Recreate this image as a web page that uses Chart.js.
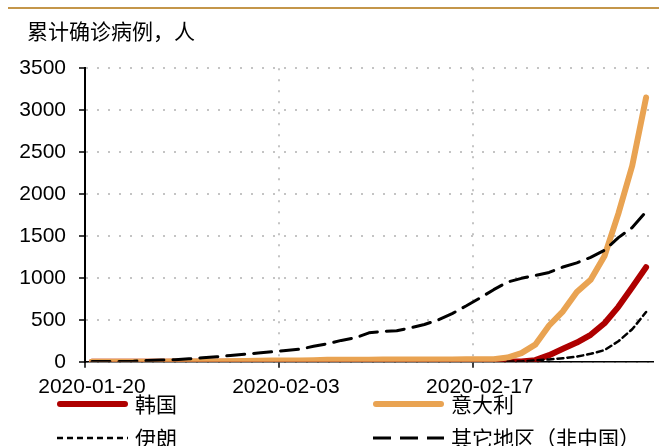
<!DOCTYPE html>
<html>
<head>
<meta charset="utf-8">
<script src="https://cdn.jsdelivr.net/npm/chart.js@4"></script>
<style>
  body { margin: 0; background: #fff; }
  #wrap { position: relative; width: 659px; height: 446px; }
  #topline { position: absolute; left: 8px; top: 7px; width: 651px; height: 2px; background: #c4964a; }
  canvas { position: absolute; left: 0; top: 0; }
</style>
</head>
<body>
<div id="wrap">
  <div id="topline"></div>
  <canvas id="myChart" width="659" height="446"></canvas>
</div>
<script>
const FONT = '"Liberation Sans", Arial, "Noto Sans CJK SC", sans-serif';

// daily categories, 2020-01-20 .. 2020-02-29
const dates = [
  '2020-01-20', '2020-01-21', '2020-01-22', '2020-01-23', '2020-01-24', '2020-01-25', '2020-01-26',
  '2020-01-27', '2020-01-28', '2020-01-29', '2020-01-30', '2020-01-31', '2020-02-01', '2020-02-02',
  '2020-02-03', '2020-02-04', '2020-02-05', '2020-02-06', '2020-02-07', '2020-02-08', '2020-02-09',
  '2020-02-10', '2020-02-11', '2020-02-12', '2020-02-13', '2020-02-14', '2020-02-15', '2020-02-16',
  '2020-02-17', '2020-02-18', '2020-02-19', '2020-02-20', '2020-02-21', '2020-02-22', '2020-02-23',
  '2020-02-24', '2020-02-25', '2020-02-26', '2020-02-27', '2020-02-28', '2020-02-29'
];
// only these dates get a tick label / grid line
const shownDates = ['2020-01-20', '2020-02-03', '2020-02-17'];

// red line (legend: 韩国)
const korea = [
  0, 0, 0, 0, 0, 0, 0, 0, 0, 0, 0, 2, 2, 2,
  2, 2, 2, 2, 3, 3, 3, 3, 3, 3, 3, 3, 3, 3,
  3, 3, 3, 3, 20, 79, 155, 229, 322, 460, 655, 888, 1128
];
// orange line (legend: 意大利)
const italy = [
  1, 1, 1, 1, 2, 2, 3, 4, 4, 4, 6, 11, 12, 15,
  15, 16, 18, 23, 24, 24, 25, 27, 28, 28, 28, 28, 28, 29,
  30, 31, 51, 104, 204, 433, 602, 833, 977, 1261, 1766, 2337, 3150
];
// dotted line (legend: 伊朗)
const iran = [
  null, null, null, null, null, null, null, null, null, null, null, null, null, null,
  null, null, null, null, null, null, null, null, null, null, null, null, null, null,
  null, null, 2, 5, 18, 28, 43, 61, 95, 139, 245, 388, 593
];
// dashed line (legend: 其它地区（非中国）)
const others = [
  3, 4, 5, 8, 15, 20, 25, 35, 48, 60, 75, 90, 105, 120,
  135, 150, 185, 215, 255, 285, 345, 362, 370, 405, 445, 500, 575, 665,
  760, 860, 950, 995, 1030, 1065, 1130, 1180, 1245, 1330, 1480, 1600, 1790
];

const yMax = 3500;
const yStep = 500;

// legend drawn as a 2x2 grid under the axis
const gridLegend = {
  id: 'gridLegend',
  afterLayout(chart, args, opts) {
    // title starts a bit right of the y tick labels
    if (chart.titleBlock) chart.titleBlock.left = opts.titleLeft;
  },
  afterDraw(chart, args, opts) {
    const ctx = chart.ctx;
    ctx.save();
    ctx.font = '21px ' + FONT;
    ctx.textBaseline = 'middle';
    chart.data.datasets.forEach((ds, i) => {
      const x = opts.cols[i % 2];
      const y = opts.rows[Math.floor(i / 2)];
      const dash = ds.borderDash || [];
      ctx.lineWidth = ds.borderWidth;
      ctx.strokeStyle = ds.borderColor;
      ctx.setLineDash(dash);
      ctx.lineCap = dash.length ? 'butt' : 'round';
      const inset = dash.length ? 0 : ctx.lineWidth / 2;
      ctx.beginPath();
      ctx.moveTo(x + inset, y);
      ctx.lineTo(x + opts.lineLength - inset, y);
      ctx.stroke();
      ctx.setLineDash([]);
      ctx.fillStyle = '#000';
      ctx.fillText(ds.label, x + opts.lineLength + 7, y + 2);
    });
    ctx.restore();
  }
};

const ctx = document.getElementById('myChart').getContext('2d');
const myChart = new Chart(ctx, {
  type: 'line',
  data: {
    labels: dates,
    datasets: [{
      label: '韩国',
      data: korea,
      borderColor: '#ae0000',
      borderWidth: 6,
      order: 3
    }, {
      label: '意大利',
      data: italy,
      borderColor: '#e9a352',
      borderWidth: 6,
      order: 2
    }, {
      label: '伊朗',
      data: iran,
      borderColor: '#000000',
      borderWidth: 2.5,
      borderDash: [6, 4],
      order: 1
    }, {
      label: '其它地区（非中国）',
      data: others,
      borderColor: '#000000',
      borderWidth: 3,
      borderDash: [18, 9],
      order: 0
    }]
  },
  options: {
    responsive: false,
    animation: false,
    devicePixelRatio: 1,
    layout: { padding: { left: 16, right: 6, top: 13, bottom: 39 } },
    elements: {
      point: { radius: 0 },
      line: { tension: 0, borderJoinStyle: 'round', borderCapStyle: 'round', fill: false }
    },
    scales: {
      x: {
        offset: true,
        grid: {
          offset: true,
          lineWidth: 2,
          color: c => (c.index > 0 && shownDates.includes(dates[c.index])) ? '#c4c4c4' : 'transparent',
          tickColor: c => shownDates.includes(dates[c.index]) ? '#000' : 'transparent',
          tickLength: 6,
          tickWidth: 1.5
        },
        border: { color: '#000', width: 1.5, dash: [2, 9] },
        ticks: {
          autoSkip: false,
          maxRotation: 0,
          padding: 7,
          color: '#000',
          font: { family: FONT, size: 21 },
          callback: (v, i) => shownDates.includes(dates[i]) ? dates[i] : ''
        }
      },
      y: {
        min: 0,
        max: yMax,
        afterFit: scale => { scale.width = 69; },
        grid: {
          lineWidth: 2,
          color: '#c4c4c4',
          tickColor: '#000',
          tickLength: 6,
          tickWidth: 1.5
        },
        border: { color: '#000', width: 2, dash: [2, 9] },
        ticks: {
          stepSize: yStep,
          padding: 13,
          color: '#000',
          font: { family: FONT, size: 21 },
          callback: v => String(v)
        }
      }
    },
    plugins: {
      legend: { display: false },
      tooltip: { enabled: false },
      title: {
        display: true,
        text: '累计确诊病例，人',
        align: 'start',
        color: '#000',
        font: { family: FONT, size: 21, weight: 'normal' },
        padding: { top: 8, bottom: 22 }
      },
      gridLegend: {
        titleLeft: 27,
        cols: [57, 373],
        rows: [404, 438],
        lineLength: 71
      }
    }
  },
  plugins: [gridLegend]
});
</script>
</body>
</html>
